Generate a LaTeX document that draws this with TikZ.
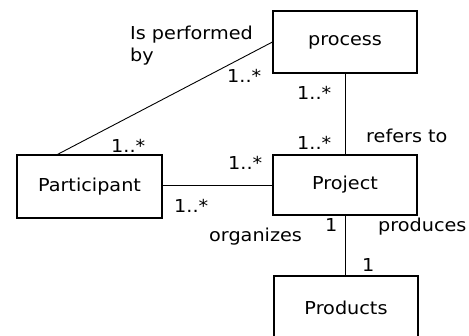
\documentclass[tikz,border=0pt]{standalone}
\usepackage{fontspec}
\setmainfont[FakeStretch=1.08]{DejaVu Sans}
\usetikzlibrary{calc}
\begin{document}
\begin{tikzpicture}[x=1pt,y=-1pt,
  font=\fontsize{17.8}{22}\selectfont,
  entity/.style={draw,line width=1.1pt,minimum width=144pt,inner sep=0pt},
  link/.style={line width=0.9pt},
  lbl/.style={anchor=base west,inner sep=0pt}]
\useasboundingbox (0,0) rectangle (469,336);
\clip (0,0) rectangle (469,336);

% classes
\node[entity,minimum height=62pt] (proc) at (345,42) {process};
\node[entity,minimum height=60pt] (proj) at (345,185) {Project};
\node[entity,minimum width=145pt,minimum height=63pt] (part) at (89.5,186.5) {Participant};
\node[entity,minimum height=64pt] (prod) at (346,308) {Products};

% associations
\coordinate (pa) at ($(part.north west)+(41,0)$);
\draw[link] (pa) -- (proc.west);
\draw[link] (part.east |- proj.west) -- (proj.west);
\draw[link] (proc.south) -- (proj.north);
\draw[link] (proj.south) -- (proj.south |- prod.north);

% role names
\node[lbl] (t1) at (130,40) {Is performed};
\node[lbl] (t2) at (130,62) {by};
\node[lbl] (t3) at (366,143) {refers to};
\node[lbl] (t4) at (209,242) {organizes};
\node[lbl] (t5) at (378,232) {produces};

% multiplicities
\node[lbl] (m1) at (227,83) {1..*};
\node[lbl] (m2) at (111,153) {1..*};
\node[lbl] (m3) at (297,100) {1..*};
\node[lbl] (m4) at (297,150) {1..*};
\node[lbl] (m5) at (228,170) {1..*};
\node[lbl] (m6) at (174,213) {1..*};
\node[lbl] (m7) at (325,232) {1};
\node[lbl] (m8) at (362,272) {1};
\end{tikzpicture}
\end{document}
